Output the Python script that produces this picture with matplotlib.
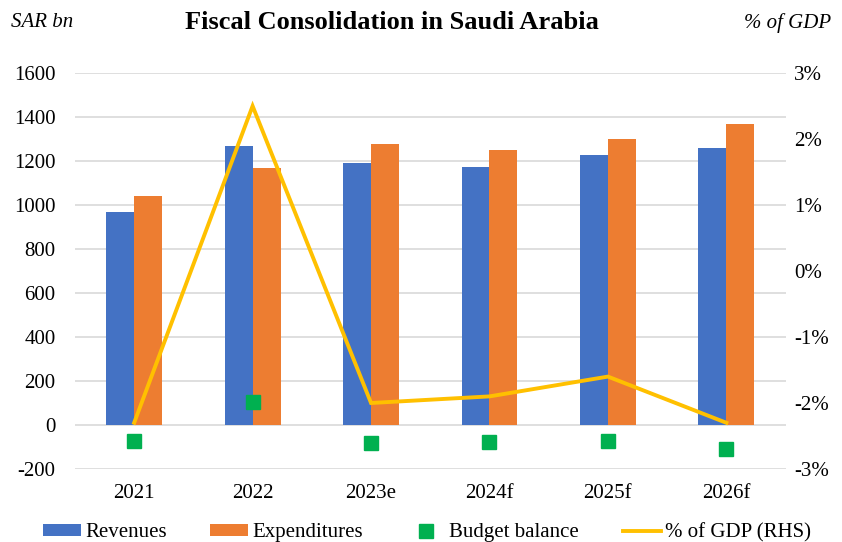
import numpy as np
import matplotlib
matplotlib.use("Agg")
import matplotlib.pyplot as plt
from matplotlib.ticker import FuncFormatter

# data
years = ["2021", "2022", "2023e", "2024f", "2025f", "2026f"]
revenues = [968, 1268, 1193, 1171, 1226, 1259]
expenditures = [1039, 1166, 1278, 1252, 1300, 1369]
budget_balance = [-71, 104, -82, -79, -72, -108]
gdp_pct = [-2.3, 2.5, -2.0, -1.9, -1.6, -2.3]

blue = "#4472c4"
orange = "#ed7d31"
green = "#00b050"
yellow = "#ffc000"
grid_col = "#d9d9d9"

plt.rcParams["font.family"] = ["Liberation Serif", "DejaVu Serif"]
plt.rcParams["axes.unicode_minus"] = False

fig = plt.figure(figsize=(8.42, 5.42), dpi=100)
ax = fig.add_axes([0.089, 0.1347, 0.844, 0.7306])
x = np.arange(len(years))
w = 0.236

b1 = ax.bar(x - w / 2, revenues, w, color=blue, label="Revenues", zorder=2)
b2 = ax.bar(x + w / 2, expenditures, w, color=orange, label="Expenditures", zorder=2)
sq, = ax.plot(x, budget_balance, linestyle="none", marker="s", markersize=10.5,
              color=green, label="Budget balance", zorder=5)

ax.set_xlim(-0.5, len(years) - 0.5)
ax.set_ylim(-200, 1600)
ax.set_yticks(range(-200, 1601, 200))
ax.set_xticks(x)
ax.set_xticklabels(years)
ax.grid(axis="y", color=grid_col, linewidth=1.2, zorder=0)
ax.set_axisbelow(True)
ax.tick_params(axis="y", length=0, labelsize=15, pad=14)
ax.tick_params(axis="x", length=0, labelsize=15, pad=11)
for sp in ax.spines.values():
    sp.set_visible(False)

ax2 = ax.twinx()
ln, = ax2.plot(x, gdp_pct, color=yellow, linewidth=2.8, label="% of GDP (RHS)",
               solid_joinstyle="miter", zorder=4)
ax2.set_ylim(-3, 3)
ax2.set_yticks(range(-3, 4))
ax2.yaxis.set_major_formatter(FuncFormatter(lambda v, p: "%d%%" % v))
ax2.tick_params(axis="y", length=0, labelsize=15, pad=6)
for sp in ax2.spines.values():
    sp.set_visible(False)

# titles
fig.text(0.466, 0.958, "Fiscal Consolidation in Saudi Arabia", ha="center", va="center",
         fontsize=19, fontweight="bold")
fig.text(0.013, 0.958, "SAR bn", ha="left", va="center", fontsize=15, style="italic")
fig.text(0.987, 0.958, "% of GDP", ha="right", va="center", fontsize=15, style="italic")

# legend along the bottom
fig.legend([b1, b2, sq, ln], ["Revenues", "Expenditures", "Budget balance", "% of GDP (RHS)"],
           loc="center", bbox_to_anchor=(0.507, 0.017), ncol=4,
           frameon=False, fontsize=15, handlelength=1.83, handleheight=0.5,
           handletextpad=0.2, columnspacing=2.1, borderaxespad=0)

fig.savefig("out.png", dpi=100)
